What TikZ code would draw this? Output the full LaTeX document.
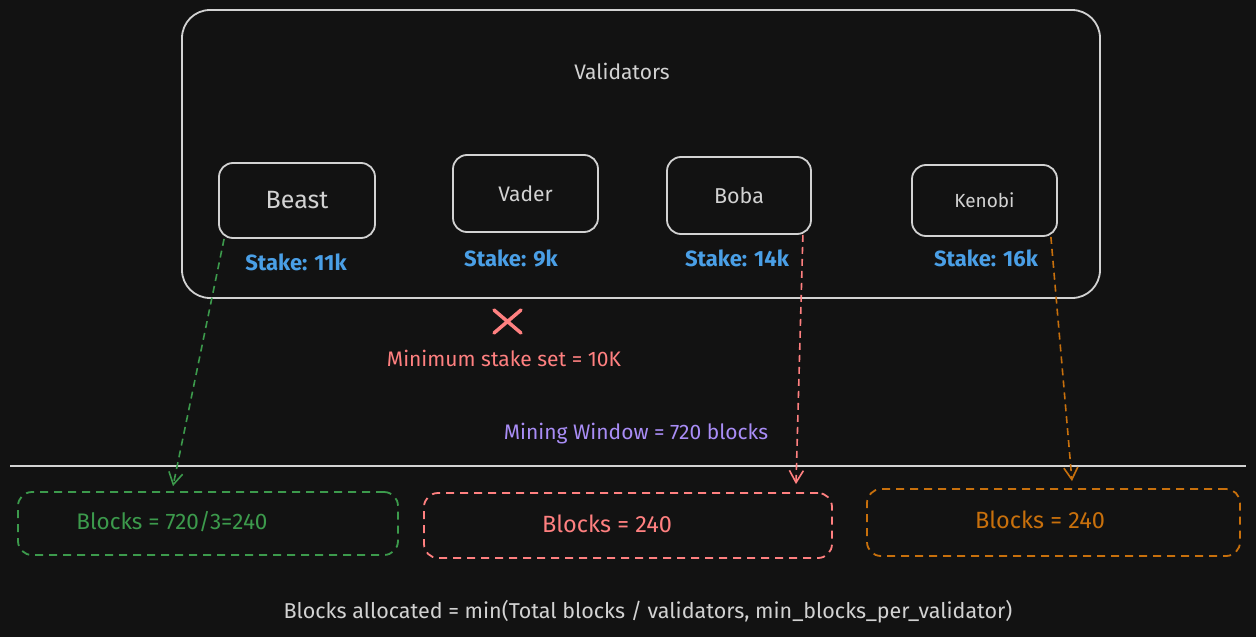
\documentclass[tikz,border=0pt]{standalone}
\usepackage{fontspec}
\setmainfont{Fira Sans}
\usetikzlibrary{calc,arrows.meta}

\definecolor{bgcol}{HTML}{121212}
\definecolor{linecol}{HTML}{D2D2D2}
\definecolor{stakecol}{HTML}{4A9FE6}
\definecolor{redcol}{HTML}{FF8080}
\definecolor{purplecol}{HTML}{A98DF6}
\definecolor{greencol}{HTML}{3C9A4C}
\definecolor{orangecol}{HTML}{C8700C}

\newcommand{\fsz}[1]{\fontsize{#1}{#1}\selectfont}

\begin{document}
\begin{tikzpicture}[x=1pt,y=-1pt,
  valbox/.style={draw=linecol, line width=1.8pt, rounded corners=14pt, inner sep=0pt},
  dbox/.style={dash pattern=on 8pt off 6pt, line width=1.8pt, rounded corners=14pt, inner sep=0pt},
  darr/.style={dash pattern=on 7pt off 5pt, line width=1.6pt,
    -{Straight Barb[length=12pt,width=14pt,line width=1.6pt]}}]
  \useasboundingbox (0,0) rectangle (1256,637);
  \fill[bgcol] (0,0) rectangle (1256,637);

  %% The validator set
  \node[valbox, rounded corners=28pt, minimum width=918pt, minimum height=288pt] (valset) at (641,154) {};
  \node[text=linecol] (valtitle) at (622,71) {\fsz{21}Validators};

  \foreach \nm/\x/\y/\w/\h/\lbl/\fs/\st/\sx/\sy in
    {beast/297/200.5/156/75/Beast/25/11k/296/262,
     vader/525.5/193.5/145/77/Vader/21/9k/511/258,
     boba/739/195.5/144/77/Boba/21.5/14k/737/258,
     kenobi/984.5/200.5/145/71/Kenobi/19/16k/986/258}
  {
    \node[valbox, minimum width=\w pt, minimum height=\h pt, text=linecol] (\nm) at (\x,\y) {\fsz{\fs}\lbl};
    \node[text=stakecol] (\nm-stake) at (\sx,\sy) {\fsz{22}\bfseries Stake: \st};
  }

  %% Minimum stake rule
  \draw[redcol, line width=3.5pt, line cap=round] (494,310) -- (521,333) (521,310) -- (494,333);
  \node[text=redcol] (minstake) at (504,358) {\fsz{21}Minimum stake set = 10K};

  %% Mining window
  \node[text=purplecol] (window) at (636,434) {\fsz{21}Mining Window = 720 blocks};
  \draw[linecol, line width=2.5pt] (10,466) -- (1246,466);

  %% Allocated blocks
  \node[dbox, draw=greencol, minimum width=380pt, minimum height=63pt] (blocksA) at (208,523.5) {};
  \node[text=greencol] (blocksA-txt) at (172,522) {\fsz{22.5}Blocks = 720/3=240};
  \node[dbox, draw=redcol, minimum width=408pt, minimum height=65pt] (blocksB) at (628,525.5) {};
  \node[text=redcol] (blocksB-txt) at (607,524) {\fsz{23.5}Blocks = 240};
  \node[dbox, draw=orangecol, minimum width=373pt, minimum height=67pt] (blocksC) at (1053.5,522.5) {};
  \node[text=orangecol] (blocksC-txt) at (1040,520) {\fsz{23.5}Blocks = 240};

  \draw[darr, greencol] ($(beast.south west)+(6,0)$) -- ($(blocksA.north)+(-35,-5)$);
  \draw[darr, redcol] ($(boba.south east)+(-9,0)$) -- ($(blocksB.north)+(168,-8)$);
  \draw[darr, orangecol] ($(kenobi.south east)+(-7,0)$) -- ($(blocksC.north)+(18.5,-7)$);

  \node[text=linecol] (formula) at (648,612) {\fsz{21.5}Blocks allocated = min(Total blocks / validators, min\_blocks\_per\_validator)};
\end{tikzpicture}
\end{document}
